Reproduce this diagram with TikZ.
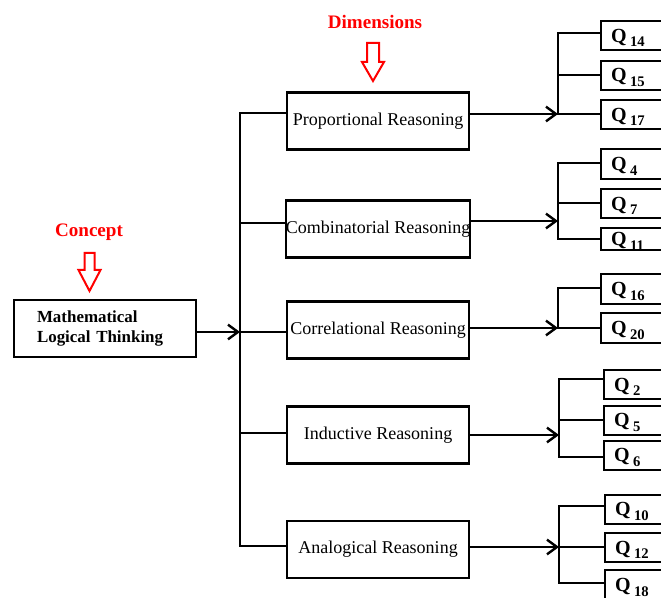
\documentclass[tikz,border=0pt]{standalone}
\usepackage{fontspec}
\setmainfont{Liberation Serif}
\usetikzlibrary{arrows.meta}
\newcommand{\qlab}[1]{\rule{0pt}{13pt}Q\,\raisebox{-3.5pt}{\fontsize{11}{11}\selectfont #1}}
\begin{document}
\begin{tikzpicture}[x=0.75pt,y=-0.75pt, line width=1.8pt,
  box/.style={draw, line width=1.8pt, inner sep=0pt},
  dimbox/.style={box, minimum width=136.5pt, minimum height=42.75pt, font=\fontsize{13.5}{16}\selectfont},
  qbox/.style={box, anchor=north west, minimum height=#1, text width=60pt, inner xsep=7.5pt, align=left, font=\fontsize{15}{15}\selectfont\bfseries},
  arr/.style={-{Straight Barb[length=7.5pt,width=11pt]}},
  redlabel/.style={text=red, font=\fontsize{14.3}{16}\selectfont\bfseries},
  hollow/.style={draw=red, fill=white, line width=1.5pt, line join=miter}]
\useasboundingbox (0,0) rectangle (661,598);
\clip (0,0) rectangle (661,598);

% labels and red arrows
\node[redlabel] (concept) at (89,232) {Concept};
\node[redlabel] (dims) at (375,22) {Dimensions};
\draw[hollow] (84.5,253) -- (94.5,253) -- (94.5,270) -- (100.5,270) -- (89.5,291) -- (78.5,270) -- (84.5,270) -- cycle;
\draw[hollow] (367,43) -- (379,43) -- (379,62) -- (384,62) -- (373,81) -- (362,62) -- (367,62) -- cycle;

% concept box
\node[box, minimum width=136.5pt, minimum height=42.75pt, text width=102pt, inner xsep=17.25pt, align=left,
      font=\fontsize{12.7}{14.3}\selectfont\bfseries] (math) at (105,328.5) {Mathematical\\Logical Thinking};

% dimension boxes
\node[dimbox] (d1) at (378,121) {Proportional Reasoning};
\node[dimbox] (d2) at (378,229) {Combinatorial Reasoning};
\node[dimbox] (d3) at (378,330) {Correlational Reasoning};
\node[dimbox] (d4) at (378,435) {Inductive Reasoning};
\node[dimbox] (d5) at (378,549.5) {Analogical Reasoning};

% main trunk
\coordinate (t1) at (240,113);
\coordinate (t2) at (240,223);
\coordinate (t3) at (240,332);
\coordinate (t4) at (240,433);
\coordinate (t5) at (240,546);
\draw (d1.west |- t1) -- (t1) -- (t5) -- (d5.west |- t5);
\draw (t2) -- (t2 -| d2.west);
\draw (t3) -- (t3 -| d3.west);
\draw (t4) -- (t4 -| d4.west);
\draw[arr] (math.east |- t3) -- (t3);

% Q boxes
\node[qbox=21.75pt] (q14) at (600,20) {\qlab{14}};
\node[qbox=21.75pt] (q15) at (600,60) {\qlab{15}};
\node[qbox=21.75pt] (q17) at (600,99) {\qlab{17}};
\node[qbox=22.5pt] (q4) at (600,148) {\qlab{4}};
\node[qbox=21.75pt] (q7) at (600,188) {\qlab{7}};
\node[qbox=16.5pt] (q11) at (600,227) {\qlab{11}};
\node[qbox=22.5pt] (q16) at (600,273) {\qlab{16}};
\node[qbox=22.5pt] (q20) at (600,312) {\qlab{20}};
\node[qbox=21.75pt] (q2) at (603,369) {\qlab{2}};
\node[qbox=21.75pt] (q5) at (603,405) {\qlab{5}};
\node[qbox=21.75pt] (q6) at (603,440) {\qlab{6}};
\node[qbox=21.75pt] (q10) at (604,494) {\qlab{10}};
\node[qbox=21.75pt] (q12) at (604,532) {\qlab{12}};
\node[qbox=23pt] (q18) at (604,569) {\qlab{18}};

% group 1
\coordinate (s11) at (558,33);
\coordinate (s12) at (558,75);
\coordinate (s13) at (558,114);
\draw (q14.west |- s11) -- (s11) -- (s13) -- (q17.west |- s13);
\draw (s12) -- (s12 -| q15.west);
\draw[arr] (d1.east |- s13) -- (s13);

% group 2
\coordinate (s21) at (558,163);
\coordinate (s22) at (558,203);
\coordinate (s23) at (558,239);
\coordinate (a2) at (558,221);
\draw (q4.west |- s21) -- (s21) -- (s23) -- (q11.west |- s23);
\draw (s22) -- (s22 -| q7.west);
\draw[arr] (d2.east |- a2) -- (a2);

% group 3
\coordinate (s31) at (558,288);
\coordinate (s32) at (558,328);
\draw (q16.west |- s31) -- (s31) -- (s32) -- (q20.west |- s32);
\draw[arr] (d3.east |- s32) -- (s32);

% group 4
\coordinate (s41) at (559,379);
\coordinate (s42) at (559,420);
\coordinate (s43) at (559,457);
\coordinate (a4) at (559,435);
\draw (q2.west |- s41) -- (s41) -- (s43) -- (q6.west |- s43);
\draw (s42) -- (s42 -| q5.west);
\draw[arr] (d4.east |- a4) -- (a4);

% group 5
\coordinate (s51) at (559,506);
\coordinate (s52) at (559,547);
\coordinate (s53) at (559,583);
\draw (q10.west |- s51) -- (s51) -- (s53) -- (q18.west |- s53);
\draw (s52) -- (s52 -| q12.west);
\draw[arr] (d5.east |- s52) -- (s52);
\end{tikzpicture}
\end{document}
